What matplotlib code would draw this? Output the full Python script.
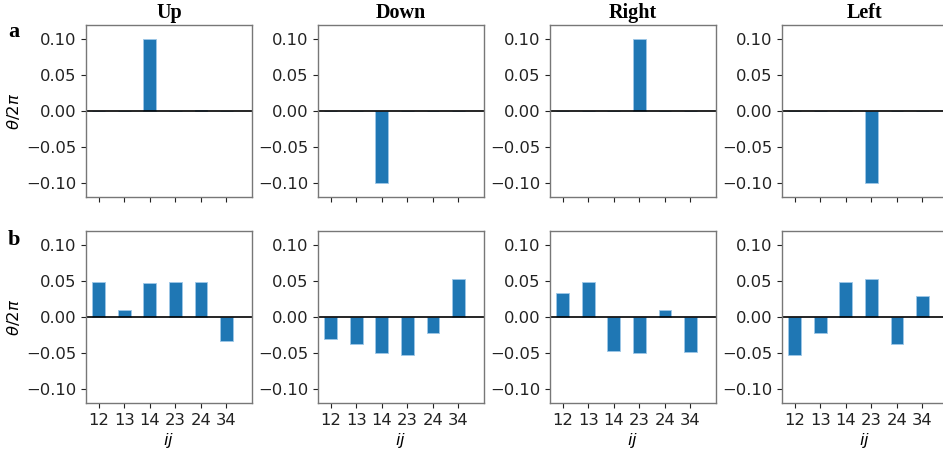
import numpy as np
import matplotlib
matplotlib.use('Agg')
import matplotlib.pyplot as plt

# ---- data -----------------------------------------------------------------
pairs = ['12', '13', '14', '23', '24', '34']
titles = ['Up', 'Down', 'Right', 'Left']

# row a
a_up = [0.0, 0.0, 0.100, 0.0, 0.001, 0.0]
a_down = [0.0, 0.0, -0.100, 0.0, 0.0, 0.0]
a_right = [0.0, 0.0, 0.0, 0.100, 0.0, 0.0]
a_left = [0.0, 0.0, 0.0, -0.100, 0.0, 0.0]

# row b
b_up = [0.049, 0.010, 0.047, 0.049, 0.049, -0.034]
b_down = [-0.031, -0.038, -0.050, -0.053, -0.023, 0.053]
b_right = [0.034, 0.049, -0.047, -0.050, 0.010, -0.049]
b_left = [-0.053, -0.023, 0.049, 0.053, -0.037, 0.029]

rows = [[a_up, a_down, a_right, a_left],
        [b_up, b_down, b_right, b_left]]

# ---- figure ---------------------------------------------------------------
W, H = 943, 449
fig = plt.figure(figsize=(W / 100, H / 100), dpi=100)

fs = 11.8
col_left = [86, 318, 550, 782]
ax_w = 166
row_top = [25, 231]
ax_h = 172

bar_color = '#1f77b4'
x = np.arange(len(pairs))

for r in range(2):
    for c in range(4):
        l = col_left[c] / W
        b = 1 - (row_top[r] + ax_h) / H
        ax = fig.add_axes([l, b, ax_w / W, ax_h / H])
        ax.bar(x, rows[r][c], width=0.5, color=bar_color,
               edgecolor='#9ec8e8', linewidth=0.6)
        ax.axhline(0, color='k', lw=1.2)
        ax.set_xlim(-0.5, 6.0)
        ax.set_ylim(-0.12, 0.12)
        ax.set_yticks([-0.10, -0.05, 0.0, 0.05, 0.10])
        ax.set_yticklabels(['\u22120.10', '\u22120.05', '0.00', '0.05', '0.10'])
        ax.set_xticks(x)
        if r == 1:
            ax.set_xticklabels(pairs)
            ax.set_xlabel(r'$ij$', fontsize=fs, labelpad=2)
        else:
            ax.set_xticklabels([])
            ax.set_title(titles[c], fontsize=14.5, fontweight='bold',
                         family='Liberation Serif', pad=5)
        if c == 0:
            ax.set_ylabel(r'$\theta/2\pi$', fontsize=fs, labelpad=3)
        ax.tick_params(labelsize=fs, colors='#222222', length=3.5,
                       width=0.8)
        for s in ax.spines.values():
            s.set_color('#777777')
            s.set_linewidth(1.0)

fig.text(8 / W, 1 - 32 / H, 'a', fontsize=16, fontweight='bold',
         family='Liberation Serif', va='center')
fig.text(8 / W, 1 - 240 / H, 'b', fontsize=16, fontweight='bold',
         family='Liberation Serif', va='center')

fig.savefig('out.png', dpi=100)
